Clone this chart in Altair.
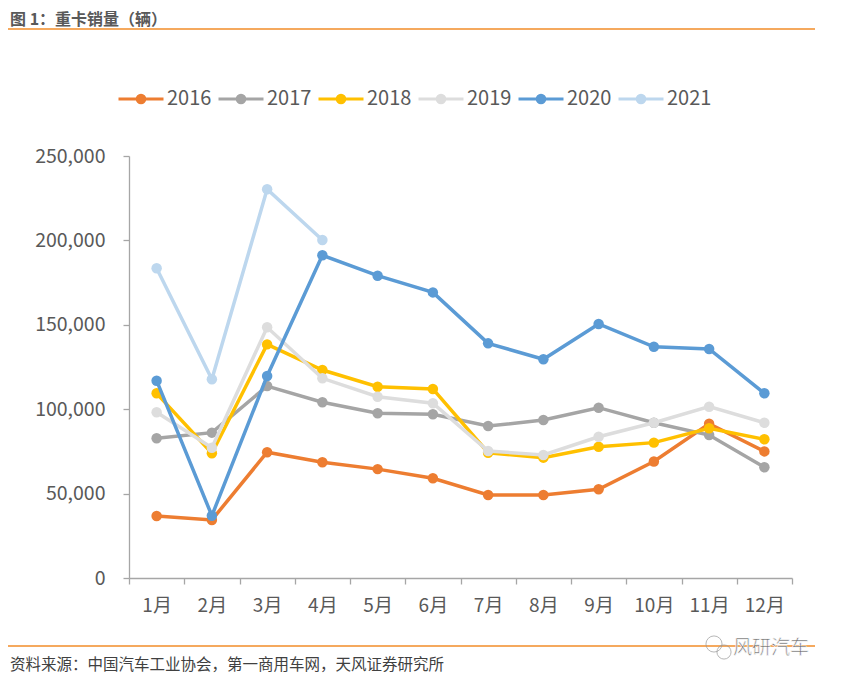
import altair as alt
import pandas as pd

months = ["1月", "2月", "3月", "4月", "5月", "6月", "7月", "8月", "9月", "10月", "11月", "12月"]
years = ["2016", "2017", "2018", "2019", "2020", "2021"]
colors = ["#ED7D31", "#A5A5A5", "#FFC000", "#DDDDDD", "#5B9BD5", "#BDD7EE"]

s2016 = [36700, 34400, 74500, 68600, 64500, 59100, 49200, 49200, 52600, 69000, 91400, 75000]
s2017 = [82800, 86100, 113700, 104100, 97600, 97000, 90000, 93600, 100900, 92000, 84700, 65600]
s2018 = [109400, 73900, 138400, 123200, 113300, 112000, 74200, 71300, 77800, 80200, 88700, 82200]
s2019 = [98200, 77200, 148500, 118300, 107400, 103500, 75200, 72900, 83700, 92000, 101500, 92000]
s2020 = [116900, 36900, 119700, 191200, 179100, 169200, 139000, 129600, 150500, 137000, 135700, 109400]
s2021 = [183500, 117700, 230300, 200200]

y_ticks = [0, 50000, 100000, 150000, 200000, 250000]

title_text = "图 1：重卡销量（辆）"
source_text = "资料来源：中国汽车工业协会，第一商用车网，天风证券研究所"
watermark_text = "风研汽车"

series = [s2016, s2017, s2018, s2019, s2020, s2021]
rows = []
for yr, vals in zip(years, series):
    for m, v in zip(months, vals):
        rows.append({"month": m, "year": yr, "value": v})
df = pd.DataFrame(rows)

FONT = "Noto Sans CJK SC"
TXT = "#595959"
ORANGE = "#F28C28"

# legend symbol: line with a filled dot (concentric circles stroked)
def ring(r):
    return f"M{-r},0A{r},{r} 0 1,0 {r},0A{r},{r} 0 1,0 {-r},0"
sym_path = "M-1,0L1,0" + ring(0.05) + ring(0.11) + ring(0.17)

x_enc = alt.X(
    "month:N",
    sort=months,
    scale=alt.Scale(type="band", domain=months, paddingInner=0, paddingOuter=0),
    axis=alt.Axis(
        title=None, labelAngle=0, tickBand="extent", tickSize=6, labelPadding=12,
        labelFontSize=19, labelColor=TXT, labelFont=FONT,
        domainColor="#A6A6A6", tickColor="#A6A6A6", domainWidth=1.3, tickWidth=1.3,
        grid=False,
    ),
)
y_enc = alt.Y(
    "value:Q",
    scale=alt.Scale(domain=[0, 250000], nice=False),
    axis=alt.Axis(
        title=None, values=y_ticks, format=",.0f", tickSize=6, labelPadding=18,
        labelFontSize=19.5, labelColor=TXT, labelFont=FONT,
        domainColor="#A6A6A6", tickColor="#A6A6A6", domainWidth=1.3, tickWidth=1.3,
        grid=False,
    ),
)
color_scale = alt.Scale(domain=years, range=colors)
legend = alt.Legend(
    title=None, orient="none", direction="horizontal",
    legendX=-12, legendY=-81,
    symbolType=sym_path, symbolSize=2025, symbolStrokeWidth=3,
    labelFontSize=20, labelColor=TXT, labelFont=FONT,
    labelOffset=2, columnPadding=0,
)

base = alt.Chart(df)
layers = []
for yr in years:
    sub = base.transform_filter(alt.datum.year == yr)
    layers.append(
        sub.mark_line(strokeWidth=3.5).encode(
            x=x_enc, y=y_enc,
            color=alt.Color("year:N", scale=color_scale, legend=legend),
        )
    )
    layers.append(
        sub.mark_circle(size=110, opacity=1).encode(
            x=x_enc, y=y_enc,
            color=alt.Color("year:N", scale=color_scale, legend=None),
        )
    )

one = pd.DataFrame({"t": [title_text]})
title_mark = alt.Chart(one).mark_text(
    align="left", baseline="middle", font=FONT, fontSize=16, fontWeight="bold", color=TXT
).encode(x=alt.value(-119), y=alt.value(-136.5), text="t:N")

top_rule = alt.Chart(one).mark_rule(color=ORANGE, strokeWidth=1.5).encode(
    x=alt.value(-121), x2=alt.value(686), y=alt.value(-127)
)
bottom_rule = alt.Chart(one).mark_rule(color=ORANGE, strokeWidth=1.5).encode(
    x=alt.value(-121), x2=alt.value(686), y=alt.value(490)
)
src = pd.DataFrame({"t": [source_text]})
source_mark = alt.Chart(src).mark_text(
    align="left", baseline="middle", font=FONT, fontSize=15.5, color="#404040"
).encode(x=alt.value(-119), y=alt.value(509), text="t:N")

wm = pd.DataFrame({"t": [watermark_text]})
wm_mark = alt.Chart(wm).mark_text(
    align="left", baseline="middle", font=FONT, fontSize=19, color="#6E6E6E",
    stroke="white", strokeWidth=0.6
).encode(x=alt.value(604), y=alt.value(492), text="t:N")
icon1 = alt.Chart(one).mark_point(shape="circle", filled=False, size=260, color="#9A9A9A", strokeWidth=1).encode(
    x=alt.value(585), y=alt.value(488)
)
icon2 = alt.Chart(one).mark_point(shape="circle", filled=False, size=200, color="#9A9A9A", strokeWidth=1).encode(
    x=alt.value(595), y=alt.value(496)
)

chart = alt.layer(
    top_rule, bottom_rule, title_mark, source_mark, icon1, icon2, wm_mark, *layers
).properties(
    width=663, height=422,
    autosize=alt.AutoSizeParams(type="none"),
    padding={"left": 121, "top": 148, "right": 40, "bottom": 95},
    background="white",
).configure_view(stroke=None)

chart.save("out.html", embed_options={"renderer": "svg", "actions": False})
